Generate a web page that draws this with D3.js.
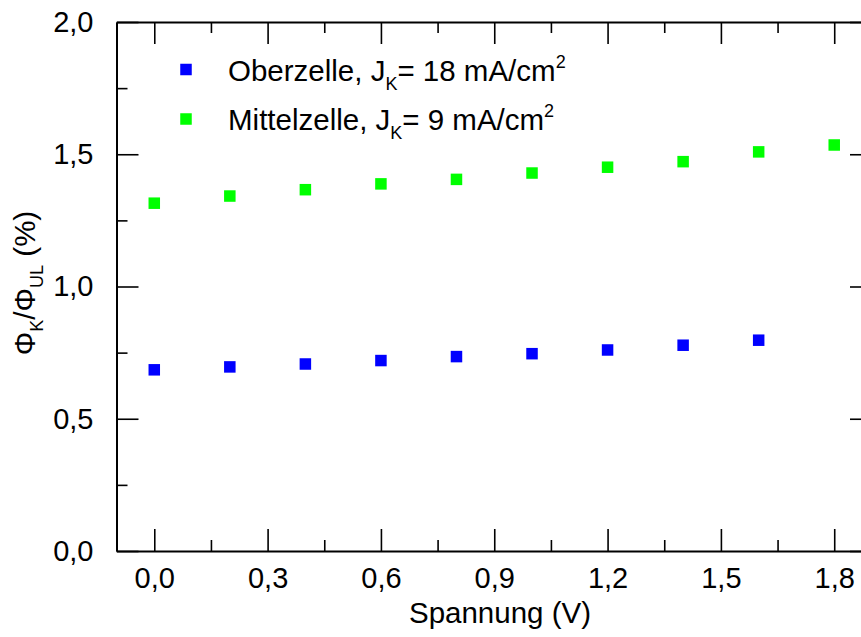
<!DOCTYPE html>
<html>
<head>
<meta charset="utf-8">
<script src="https://cdn.jsdelivr.net/npm/d3@7"></script>
<style>
  html, body { margin: 0; padding: 0; background: #fff; }
  svg { display: block; font-family: "Liberation Sans", Arial, sans-serif; }
</style>
</head>
<body>
<svg id="chart" width="861" height="637"></svg>
<script>
// Spannung (V) at which each ratio was measured
const voltsOber = [0.0, 0.2, 0.4, 0.6, 0.8, 1.0, 1.2, 1.4, 1.6];
const voltsMittel = [0.0, 0.2, 0.4, 0.6, 0.8, 1.0, 1.2, 1.4, 1.6, 1.8];
// Φ_K/Φ_UL in %
const ratioOber = [0.685, 0.696, 0.707, 0.720, 0.735, 0.746, 0.760, 0.778, 0.797];
const ratioMittel = [1.315, 1.342, 1.366, 1.388, 1.405, 1.429, 1.451, 1.472, 1.509, 1.535];

const xMajorTicks = [0.0, 0.3, 0.6, 0.9, 1.2, 1.5, 1.8];
const xMinorTicks = [0.15, 0.45, 0.75, 1.05, 1.35, 1.65];
const yMajorTicks = [0.0, 0.5, 1.0, 1.5, 2.0];
const yMinorTicks = [0.25, 0.75, 1.25, 1.75];

const seriesNames = ["Oberzelle", "Mittelzelle"];
const seriesCurrents = ["18", "9"];
const seriesColors = ["#0000ff", "#00ff00"];

const svg = d3.select("#chart");
const plotLeft = 116.5, plotRight = 872, plotTop = 22, plotBottom = 551;

const x = d3.scaleLinear().domain([-0.1, 1.9]).range([plotLeft, plotRight]);
const y = d3.scaleLinear().domain([0, 2.0]).range([plotBottom, plotTop]);

const fmt = v => d3.format(".1f")(v).replace(".", ",");
const majorLen = 22, minorLen = 11;
const tickFont = 29;
const textFont = 29.5;
const subFont = 18;

// Axes: ticks point inward on all four sides
const g = svg.append("g");

g.append("g").attr("transform", `translate(0,${plotBottom})`)
  .call(d3.axisBottom(x).tickValues(xMajorTicks).tickFormat(fmt)
    .tickSizeInner(-majorLen).tickSizeOuter(0).tickPadding(16));
g.append("g").attr("transform", `translate(0,${plotBottom})`)
  .call(d3.axisBottom(x).tickValues(xMinorTicks).tickFormat("").tickSizeInner(-minorLen).tickSizeOuter(0))
  .select(".domain").remove();

g.append("g").attr("transform", `translate(0,${plotTop})`)
  .call(d3.axisTop(x).tickValues(xMajorTicks).tickFormat("").tickSizeInner(-majorLen).tickSizeOuter(0));
g.append("g").attr("transform", `translate(0,${plotTop})`)
  .call(d3.axisTop(x).tickValues(xMinorTicks).tickFormat("").tickSizeInner(-minorLen).tickSizeOuter(0))
  .select(".domain").remove();

g.append("g").attr("transform", `translate(${plotLeft},0)`)
  .call(d3.axisLeft(y).tickValues(yMajorTicks).tickFormat(fmt)
    .tickSizeInner(-majorLen).tickSizeOuter(0).tickPadding(23));
g.append("g").attr("transform", `translate(${plotLeft},0)`)
  .call(d3.axisLeft(y).tickValues(yMinorTicks).tickFormat("").tickSizeInner(-minorLen).tickSizeOuter(0))
  .select(".domain").remove();

g.append("g").attr("transform", `translate(${plotRight},0)`)
  .call(d3.axisRight(y).tickValues(yMajorTicks).tickFormat("").tickSizeInner(-majorLen).tickSizeOuter(0));
g.append("g").attr("transform", `translate(${plotRight},0)`)
  .call(d3.axisRight(y).tickValues(yMinorTicks).tickFormat("").tickSizeInner(-minorLen).tickSizeOuter(0))
  .select(".domain").remove();

g.selectAll(".domain").attr("stroke", "#000").attr("stroke-width", 2);
g.selectAll(".tick line").attr("stroke", "#000").attr("stroke-width", 1.6);
g.selectAll(".tick text")
  .attr("fill", "#000")
  .style("font-size", tickFont + "px")
  .style("font-family", "'Liberation Sans', Arial, sans-serif");

// Data markers
const marker = 11.5;
const series = [
  { volts: voltsOber, ratio: ratioOber, color: seriesColors[0] },
  { volts: voltsMittel, ratio: ratioMittel, color: seriesColors[1] }
];
series.forEach(s => {
  svg.append("g").selectAll("rect")
    .data(s.volts.map((v, i) => [v, s.ratio[i]]))
    .join("rect")
    .attr("x", d => x(d[0]) - marker / 2)
    .attr("y", d => y(d[1]) - marker / 2)
    .attr("width", marker)
    .attr("height", marker)
    .attr("fill", s.color);
});

// Legend
const legend = svg.append("g");
const legendRows = [69.5, 119];
seriesNames.forEach((name, i) => {
  legend.append("rect")
    .attr("x", 186 - marker / 2).attr("y", legendRows[i] - marker / 2)
    .attr("width", marker).attr("height", marker)
    .attr("fill", seriesColors[i]);
  const t = legend.append("text")
    .attr("x", 228).attr("y", legendRows[i] + 11)
    .style("font-size", textFont + "px");
  t.append("tspan").text(`${name}, J`);
  t.append("tspan").attr("dy", 9).style("font-size", subFont + "px").text("K");
  t.append("tspan").attr("dy", -9).text(`= ${seriesCurrents[i]} mA/cm`);
  t.append("tspan").attr("dy", -13).style("font-size", subFont + "px").text("2");
});

// Axis titles
svg.append("text")
  .attr("x", 500).attr("y", 623)
  .attr("text-anchor", "middle")
  .style("font-size", textFont + "px")
  .text("Spannung (V)");

const yt = svg.append("text")
  .attr("transform", "translate(35,283) rotate(-90)")
  .attr("text-anchor", "middle")
  .style("font-size", textFont + "px");
yt.append("tspan").text("Φ");
yt.append("tspan").attr("dy", 8).style("font-size", subFont + "px").text("K");
yt.append("tspan").attr("dy", -8).text("/Φ");
yt.append("tspan").attr("dy", 8).style("font-size", subFont + "px").text("UL");
yt.append("tspan").attr("dy", -8).text(" (%)");
</script>
</body>
</html>
